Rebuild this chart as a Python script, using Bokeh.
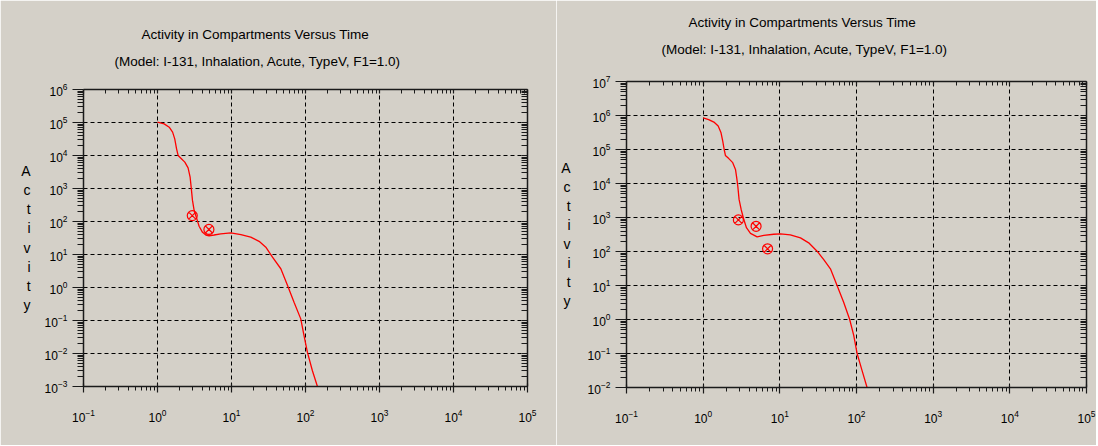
import math
from bokeh.plotting import figure
from bokeh.models import (Range1d, FixedTicker, LogAxis, Title,
                          PrintfTickFormatter, LogTickFormatter)
from bokeh.embed import file_html
from bokeh.resources import INLINE

# ---------------- data ----------------
title_line1 = "Activity in Compartments Versus Time"
title_line2 = "(Model: I-131, Inhalation, Acute, TypeV, F1=1.0)"
y_axis_title = "Activity"

x_tick_values = [1e-1, 1e0, 1e1, 1e2, 1e3, 1e4, 1e5]
left_y_tick_values = [1e-3, 1e-2, 1e-1, 1e0, 1e1, 1e2, 1e3, 1e4, 1e5, 1e6]
right_y_tick_values = [1e-2, 1e-1, 1e0, 1e1, 1e2, 1e3, 1e4, 1e5, 1e6, 1e7]

left_time = [1.0, 1.23, 1.44, 1.60, 1.71, 1.81, 1.90, 2.07, 2.34, 2.59, 2.76, 2.85,
             2.97, 3.13, 3.40, 3.65, 4.06, 4.50, 4.98, 5.82, 7.16, 9.77, 13.4, 18.2,
             23.6, 29.1, 35.8, 46.4, 57.2, 70.0, 86.3, 95.5, 106, 124, 145, 160]
left_activity = [1.02e5, 9.1e4, 7.2e4, 5.1e4, 3.2e4, 1.59e4, 1.0e4, 8.3e3, 6.3e3, 4.2e3,
                 2.2e3, 1.1e3, 435, 215, 120, 72, 47, 39, 37, 39, 42, 45, 40, 33.5,
                 25, 16.7, 8.3, 3.7, 1.15, 0.36, 0.112, 0.035, 0.011, 0.003, 0.001, 0.0004]
left_marker_time = [2.95, 4.95]
left_marker_activity = [151, 57.5]

right_time = [1.0, 1.18, 1.38, 1.57, 1.71, 1.80, 1.88, 1.95, 2.16, 2.43, 2.64, 2.74,
              2.83, 2.94, 3.13, 3.39, 3.67, 4.14, 5.06, 6.17, 8.32, 10.2, 13.7, 18.6,
              23.8, 30.6, 37.4, 45.7, 55.8, 68.0, 81.5, 92.0, 101.6, 118, 137, 150]
right_activity = [8.5e5, 7.6e5, 6.4e5, 4.9e5, 3.1e5, 1.76e5, 1.0e5, 6.7e4, 5.4e4, 4.1e4,
                  2.6e4, 1.47e4, 8.3e3, 3.4e3, 1.72e3, 870, 500, 340, 270, 296, 322,
                  330, 310, 252, 180, 102, 58, 31, 10, 3.2, 1.0, 0.34, 0.102, 0.032,
                  0.0102, 0.004]
right_marker_time = [2.88, 4.9, 6.92]
right_marker_activity = [851, 550, 120]

# ---------------- style ----------------
BG = "#d4d0c8"
FONT = "Liberation Sans"
RED = "#ff0000"


def minor_ticks(lo_exp, hi_exp):
    out = []
    for d in range(lo_exp, hi_exp):
        for k in range(2, 10):
            out.append(k * 10.0 ** d)
    return out


def make_panel(time, act, mtime, mact, y_ticks, fig_w, fig_h,
               b_left, b_top, f_w, f_h, t_offsets, t_standoffs, ylab_standoff):
    ylo, yhi = y_ticks[0], y_ticks[-1]
    p = figure(x_axis_type="log", y_axis_type="log",
               x_range=Range1d(x_tick_values[0], x_tick_values[-1]),
               y_range=Range1d(ylo, yhi),
               frame_width=f_w, frame_height=f_h,
               min_border_left=b_left, min_border_top=b_top,
               min_border_right=fig_w - b_left - f_w,
               min_border_bottom=fig_h - b_top - f_h,
               title=None, toolbar_location=None, output_backend="svg",
               background_fill_color=BG, border_fill_color=BG,
               outline_line_color=None)
    p.styles = {"float": "left"}

    xlo_e = round(math.log10(x_tick_values[0]))
    xhi_e = round(math.log10(x_tick_values[-1]))
    ylo_e = round(math.log10(ylo))
    yhi_e = round(math.log10(yhi))
    xt = FixedTicker(ticks=x_tick_values, minor_ticks=minor_ticks(xlo_e, xhi_e))
    yt = FixedTicker(ticks=y_ticks, minor_ticks=minor_ticks(ylo_e, yhi_e))

    bottom = p.below[0]
    left = p.left[0]
    top = LogAxis()
    right = LogAxis()
    p.add_layout(top, "above")
    p.add_layout(right, "right")

    for ax in [bottom, top]:
        ax.ticker = xt
    for ax in [left, right]:
        ax.ticker = yt

    for ax in [bottom, left, top, right]:
        ax.axis_line_color = "#1a1a1a"
        ax.axis_line_width = 1.5
        ax.major_tick_line_color = "#1a1a1a"
        ax.minor_tick_line_color = "#1a1a1a"
        ax.major_tick_line_width = 1.2
        ax.minor_tick_line_width = 1
        ax.major_label_text_font = FONT
        ax.major_label_text_font_size = "12px"
        ax.major_label_text_color = "black"

    for ax in [top, right]:
        ax.formatter = PrintfTickFormatter(format="")
        ax.major_label_standoff = 0
    for ax in [bottom, left]:
        ax.formatter = LogTickFormatter()

    left.major_tick_out = 11
    left.major_tick_in = 0
    left.minor_tick_out = 6
    left.minor_tick_in = 0
    left.major_label_standoff = 5

    bottom.major_tick_out = 6
    bottom.major_tick_in = 3
    bottom.minor_tick_out = 4
    bottom.minor_tick_in = 0
    bottom.major_label_standoff = 16

    top.major_tick_out = 0
    top.major_tick_in = 4
    top.minor_tick_out = 0
    top.minor_tick_in = 4

    right.major_tick_out = 0
    right.major_tick_in = 6
    right.minor_tick_out = 0
    right.minor_tick_in = 6

    # stacked vertical axis title
    left.axis_label = "\n".join(list(y_axis_title))
    left.axis_label_orientation = "horizontal"
    left.axis_label_text_font = FONT
    left.axis_label_text_font_size = "14px"
    left.axis_label_text_font_style = "normal"
    left.axis_label_text_color = "black"
    left.axis_label_text_line_height = 1.19
    left.axis_label_standoff = ylab_standoff

    p.xgrid.ticker = xt
    p.ygrid.ticker = yt
    for g in [p.xgrid, p.ygrid]:
        g.grid_line_color = "black"
        g.grid_line_dash = "4 3"
        g.grid_line_width = 1

    # curve and markers
    p.line(time, act, line_color=RED, line_width=1.3)
    p.scatter(mtime, mact, marker="circle_x", size=10, line_color=RED,
              fill_color=None, line_width=1.2)

    # spacer between the frame and the two-line title, then the title lines
    p.add_layout(Title(text=" ", align="left", standoff=t_standoffs[2],
                       text_font=FONT, text_font_size="13.5px",
                       text_font_style="normal", text_color="black"), "above")
    for txt, off, so in [(title_line2, t_offsets[1], t_standoffs[1]),
                         (title_line1, t_offsets[0], t_standoffs[0])]:
        p.add_layout(Title(text=txt, align="left", offset=off, standoff=so,
                           text_font=FONT, text_font_size="13.5px",
                           text_font_style="normal", text_color="black"),
                     "above")
    return p


p1 = make_panel(left_time, left_activity, left_marker_time, left_marker_activity,
                left_y_tick_values,
                fig_w=556, fig_h=445, b_left=83, b_top=89, f_w=444, f_h=297,
                t_offsets=(58, 31), t_standoffs=(19, 0, 4), ylab_standoff=11)
p2 = make_panel(right_time, right_activity, right_marker_time, right_marker_activity,
                right_y_tick_values,
                fig_w=540, fig_h=445, b_left=70, b_top=81, f_w=460, f_h=306,
                t_offsets=(62, 35), t_standoffs=(19, 0, 8), ylab_standoff=14)

open("out.html", "w").write(file_html([p1, p2], INLINE))
